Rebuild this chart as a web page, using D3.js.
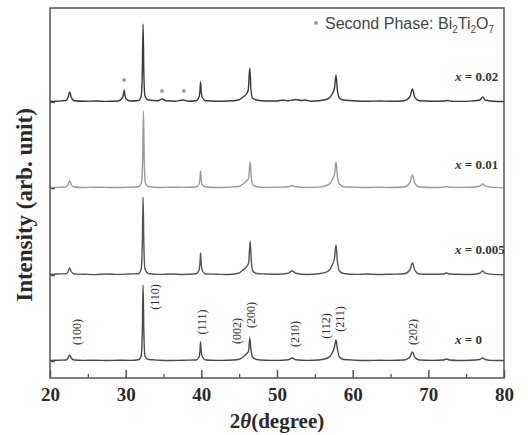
<!DOCTYPE html>
<html><head><meta charset="utf-8">
<script src="https://cdn.jsdelivr.net/npm/d3@7"></script>
<style>body{margin:0;background:#fff}svg{display:block}</style>
</head><body>
<svg id="c" width="528" height="435"></svg>
<script>
// ---- data ----
const xTicks = [20, 30, 40, 50, 60, 70, 80];
const xMinorTicks = [25, 35, 45, 55, 65, 75];
const sampleNames = ["x = 0", "x = 0.005", "x = 0.01", "x = 0.02"];
const sampleOffsets = [17, 103, 190, 276];
const sampleColors = ["#4a4a4a", "#555555", "#9a9a9a", "#3a3a3a"];

const patternX0 = [[20,0.5],[21,0.8],[22.1,1],[22.4,3],[22.6,6],[22.8,3],[23.2,1],[24.5,0.6],[26,0.8],[27.5,0.5],[29,0.8],[30.5,0.6],[31.7,1.2],[32.05,5],[32.2,30],[32.3,76],[32.4,30],[32.55,5],[33,1.5],[34.5,0.8],[36,0.5],[37.5,0.8],[39.3,1],[39.7,4],[39.82,10],[39.9,19],[39.98,10],[40.15,4],[40.6,1],[42,0.6],[43.5,0.8],[44.9,1.5],[45.5,4],[45.95,7],[46.25,10],[46.4,23],[46.55,12],[46.75,4],[47.3,1.5],[48.5,0.8],[50,0.6],[51.5,1.3],[52,3],[52.5,1.3],[54,0.6],[55.5,1],[56.7,3],[57.3,8],[57.6,14],[57.8,21],[57.98,12],[58.25,4],[58.8,1.5],[60.5,0.8],[62,0.5],[63.5,0.7],[65,0.6],[66.8,1],[67.55,4],[67.9,9],[68.2,4],[68.8,1],[70.5,0.6],[72,1],[72.4,2],[72.8,1],[74,0.5],[75.5,0.7],[76.8,1.5],[77.2,3],[77.5,1.5],[78.5,0.6],[80,0.5]];
const patternX005 = [[20,0.5],[21,1],[22.1,1.2],[22.4,3.5],[22.6,7],[22.8,3.5],[23.2,1],[24.5,0.8],[26,0.4],[27.5,1],[29,0.6],[30.5,1],[31.7,1.3],[32.05,6],[32.2,32],[32.3,78],[32.4,32],[32.55,6],[33,1.5],[34.5,0.6],[36,1],[37.5,0.5],[39.3,1.2],[39.7,5],[39.82,12],[39.9,22],[39.98,12],[40.15,4],[40.6,1],[42,0.8],[43.5,0.5],[44.9,1.8],[45.5,5],[45.95,8],[46.25,12],[46.45,34],[46.6,14],[46.8,4],[47.3,1.5],[48.5,1],[50,0.7],[51.5,1.8],[52,4],[52.5,1.8],[54,0.5],[55.5,1.2],[56.7,3.5],[57.3,10],[57.6,17],[57.8,30],[57.98,14],[58.25,4],[58.8,1.5],[60.5,0.6],[62,1],[63.5,0.5],[65,0.8],[66.8,1.2],[67.55,5],[67.9,12],[68.2,5],[68.8,1],[70.5,0.8],[72,1],[72.4,2],[72.8,1],[74,0.7],[75.5,0.5],[76.8,1.8],[77.2,4],[77.5,1.8],[78.5,0.6],[80,0.3]];
const patternX001 = [[20,0.5],[21,0.6],[22.1,1],[22.4,3.5],[22.6,7],[22.8,3.5],[23.2,1],[24.5,0.5],[26,0.8],[27.5,0.6],[29,0.5],[30.5,0.8],[31.7,1.2],[32.1,6],[32.25,30],[32.35,77],[32.45,30],[32.6,5],[33,1.5],[34.5,0.5],[36,0.8],[37.5,0.6],[39.3,1],[39.7,4],[39.82,9],[39.9,17],[39.98,9],[40.15,3],[40.6,1],[42,0.5],[43.5,0.8],[44.9,1.5],[45.5,4],[45.95,7],[46.25,10],[46.45,26],[46.6,11],[46.8,3],[47.3,1.3],[48.5,0.6],[50,0.8],[51.5,1.2],[52,2.5],[52.5,1.2],[54,0.6],[55.5,0.9],[56.7,3],[57.3,8],[57.6,14],[57.8,26],[57.98,12],[58.25,4],[58.8,1.3],[60.5,0.7],[62,0.5],[63.5,0.8],[65,0.5],[66.8,1],[67.55,5],[67.9,13],[68.2,5],[68.8,1],[70.5,0.5],[72,0.8],[72.4,1.5],[72.8,0.8],[74,0.6],[75.5,0.8],[76.8,1.8],[77.2,4],[77.5,1.8],[78.5,0.6],[80,0.4]];
const patternX002 = [[20,0.6],[21,0.8],[22.1,1.5],[22.4,5],[22.6,10],[22.8,5],[23.2,1.2],[24.5,0.7],[26,1],[27.5,0.6],[29,1],[29.55,4],[29.72,8],[29.8,12],[29.88,8],[30.05,3],[30.6,1],[31.7,1.5],[32.05,6],[32.2,30],[32.3,78],[32.4,30],[32.55,6],[33,2],[34.3,1.2],[34.8,3],[35.3,1.2],[36.5,0.8],[37.6,2],[38.3,0.8],[39.3,1.3],[39.7,5],[39.82,11],[39.9,20],[39.98,11],[40.15,4],[40.6,1.2],[42,0.8],[43.5,1],[44.9,2],[45.5,5],[45.95,8],[46.2,12],[46.4,34],[46.55,14],[46.75,4],[47.3,2],[48.5,1],[50,1],[50.8,2],[51.4,1.2],[52.5,2.5],[53.2,1.5],[53.7,2],[54.5,0.8],[55.5,1.2],[56.7,3],[57.3,8],[57.6,14],[57.8,27],[57.98,12],[58.25,4],[58.8,2],[60.5,1],[62,0.8],[63.5,1],[65,0.7],[66.8,1.3],[67.55,5],[67.9,13],[68.2,5],[68.8,1.2],[70.5,0.8],[72,1],[72.5,1.5],[73,0.8],[74,0.6],[75.5,0.9],[76.8,2],[77.2,5],[77.5,2],[78.5,0.8],[80,0.5]];
const patterns = [patternX0, patternX005, patternX001, patternX002];

const secondPhasePeaks = [29.8, 34.8, 37.7];
const secondPhaseHeights = [22, 11, 11];

const hklLabels = ["(100)", "(110)", "(111)", "(002)", "(200)", "(210)", "(112)", "(211)", "(202)"];
const hklPositions = [23.5, 33.9, 40.0, 44.7, 46.6, 52.3, 56.5, 58.3, 67.9];
const hklHeights = [29, 64, 39, 30, 46, 27, 35, 42, 29];

// ---- layout ----
const svg = d3.select("#c");
const L = 50, R = 504, T = 8, B = 378;
const x = d3.scaleLinear().domain([20, 80]).range([L, R]);
const y = d3.scaleLinear().domain([0, 370]).range([B, T]);
const serif = "'Liberation Serif','Times New Roman',serif";

// patterns
const line = d3.line().x(d => x(d[0])).curve(d3.curveMonotoneX);
patterns.forEach((p, i) => {
  svg.append("path")
    .attr("d", line.y(d => y(d[1] + sampleOffsets[i]))(p))
    .attr("fill", "none").attr("stroke", sampleColors[i]).attr("stroke-width", 1.4)
    .attr("stroke-linejoin", "round");
});

// frame
svg.append("rect").attr("x", L).attr("y", T).attr("width", R - L).attr("height", B - T)
  .attr("fill", "none").attr("stroke", "#555").attr("stroke-width", 1.5);

// bottom axis
const gx = svg.append("g").attr("transform", `translate(0,${B})`)
  .call(d3.axisBottom(x).tickValues(xTicks).tickSize(-8).tickPadding(10).tickFormat(d3.format("d")));
gx.select(".domain").remove();
gx.selectAll("line").attr("stroke", "#555").attr("stroke-width", 1.5);
gx.selectAll("text").attr("font-family", serif).attr("font-weight", "bold").attr("font-size", 19).attr("fill", "#2a2a2a");
const gxm = svg.append("g").attr("transform", `translate(0,${B})`)
  .call(d3.axisBottom(x).tickValues(xMinorTicks).tickSize(-4).tickFormat(""));
gxm.select(".domain").remove();
gxm.selectAll("line").attr("stroke", "#555").attr("stroke-width", 1.3);

// left axis ticks at baselines
const gy = svg.append("g").attr("transform", `translate(${L},0)`)
  .call(d3.axisLeft(y).tickValues(sampleOffsets).tickSize(-5).tickFormat(""));
gy.select(".domain").remove();
gy.selectAll("line").attr("stroke", "#555").attr("stroke-width", 1.3);

// sample labels
const labelY = [344, 254, 169, 81];
sampleNames.forEach((n, i) => {
  const t = svg.append("text").attr("x", 455).attr("y", labelY[i])
    .attr("font-family", serif).attr("font-weight", "bold").attr("font-size", 13).attr("fill", "#333");
  t.append("tspan").attr("font-style", "italic").text("x");
  t.append("tspan").text(n.slice(1));
});

// hkl labels (rotated)
hklLabels.forEach((h, i) => {
  const cx = x(hklPositions[i]), cy = y(hklHeights[i] + sampleOffsets[0]);
  svg.append("text").attr("transform", `translate(${cx},${cy}) rotate(-90)`)
    .attr("text-anchor", "middle").attr("dy", "0.35em")
    .attr("font-family", serif).attr("font-size", 12).attr("fill", "#333").text(h);
});

// second phase markers
const star = d3.symbol().type(d3.symbolAsterisk).size(14);
secondPhasePeaks.forEach((p, i) => {
  svg.append("path").attr("d", star())
    .attr("transform", `translate(${x(p)},${y(secondPhaseHeights[i] + sampleOffsets[3])})`)
    .attr("stroke", "#888").attr("stroke-width", 1).attr("fill", "none");
});

// legend
svg.append("path").attr("d", star()).attr("transform", "translate(316,23)")
  .attr("stroke", "#888").attr("stroke-width", 1).attr("fill", "none");
const lg = svg.append("text").attr("x", 325).attr("y", 29)
  .attr("font-family", "'Liberation Sans',Arial,sans-serif").attr("font-size", 16).attr("fill", "#444");
lg.append("tspan").text("Second Phase: Bi");
lg.append("tspan").attr("font-size", 10).attr("dy", 4).text("2");
lg.append("tspan").attr("dy", -4).text("Ti");
lg.append("tspan").attr("font-size", 10).attr("dy", 4).text("2");
lg.append("tspan").attr("dy", -4).text("O");
lg.append("tspan").attr("font-size", 10).attr("dy", 4).text("7");

// axis titles
const xt = svg.append("text").attr("x", 277).attr("y", 428).attr("text-anchor", "middle")
  .attr("font-family", serif).attr("font-weight", "bold").attr("font-size", 21).attr("fill", "#2a2a2a");
xt.append("tspan").text("2");
xt.append("tspan").attr("font-style", "italic").text("θ");
xt.append("tspan").text("(degree)");

svg.append("text").attr("transform", "translate(32,205) rotate(-90)").attr("text-anchor", "middle")
  .attr("font-family", serif).attr("font-weight", "bold").attr("font-size", 23).attr("fill", "#2a2a2a")
  .text("Intensity (arb. unit)");
</script>
</body></html>
